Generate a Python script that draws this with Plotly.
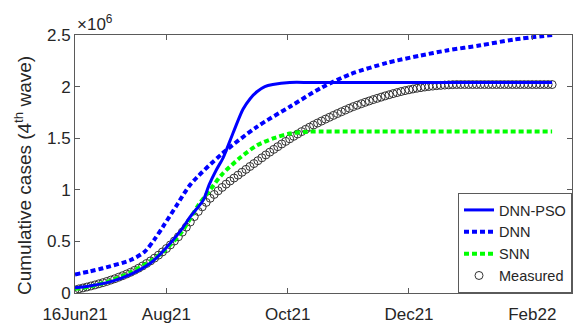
import pandas as pd
import plotly.graph_objects as go

START = "2021-06-16"

# Measured cumulative cases (millions), one value every 2 days from 16 Jun 2021
MEAS_STEP_DAYS = 2
MEASURED = [
    0.030, 0.040, 0.049, 0.058, 0.068, 0.078, 0.089, 0.100, 0.112, 0.125,
    0.138, 0.153, 0.168, 0.184, 0.201, 0.220, 0.240, 0.262, 0.286, 0.311,
    0.338, 0.367, 0.398, 0.431, 0.466, 0.504, 0.545, 0.590, 0.638, 0.688,
    0.740, 0.790, 0.835, 0.878, 0.918, 0.955, 0.990, 1.023, 1.055, 1.085,
    1.114, 1.142, 1.170, 1.198, 1.226, 1.254, 1.282, 1.310, 1.338, 1.365,
    1.392, 1.418, 1.444, 1.469, 1.494, 1.518, 1.541, 1.564, 1.586, 1.607,
    1.628, 1.647, 1.666, 1.685, 1.703, 1.721, 1.739, 1.756, 1.773, 1.790,
    1.806, 1.820, 1.834, 1.848, 1.861, 1.874, 1.886, 1.898, 1.910, 1.921,
    1.932, 1.942, 1.952, 1.961, 1.969, 1.977, 1.984, 1.990, 1.996, 2.001,
    2.005, 2.009, 2.012, 2.015, 2.017, 2.019, 2.020, 2.020, 2.020, 2.020,
    2.020, 2.020, 2.020, 2.020, 2.020, 2.020, 2.020, 2.020, 2.020, 2.020,
    2.020, 2.020, 2.020, 2.020, 2.020, 2.020, 2.020, 2.020, 2.020, 2.020,
    2.020,
]

# DNN-PSO (day offset, millions)
PSO_DAYS = [0, 8, 18, 28, 38, 45, 53, 58, 64.5, 67.5, 71, 74.5, 79.5, 84.5,
            88, 91.5, 95.5, 99.5, 108, 120, 240]
PSO_VALS = [0.05, 0.07, 0.11, 0.18, 0.29, 0.42, 0.60, 0.74, 0.90, 1.05, 1.19,
            1.31, 1.55, 1.78, 1.88, 1.95, 2.00, 2.02, 2.04, 2.04, 2.04]

# DNN
DNN_DAYS = [0, 7.5, 14, 28, 35, 40, 44.5, 51.5, 58, 74, 91.5, 108.5, 124,
            138.5, 157, 173.5, 187, 204, 220.5, 240]
DNN_VALS = [0.18, 0.21, 0.24, 0.32, 0.40, 0.52, 0.65, 0.86, 1.05, 1.35, 1.61,
            1.81, 1.99, 2.12, 2.23, 2.30, 2.35, 2.40, 2.455, 2.50]

# SNN
SNN_DAYS = [0, 8, 18, 28, 38, 45, 54, 62, 68, 74, 83, 91.5, 100, 108, 117,
            130, 240]
SNN_VALS = [0.04, 0.065, 0.12, 0.20, 0.31, 0.41, 0.60, 0.85, 1.0, 1.15, 1.31,
            1.43, 1.50, 1.545, 1.563, 1.565, 1.565]

TICK_DATES = ["2021-06-16", "2021-08-01", "2021-10-01", "2021-12-01", "2022-02-01"]
TICK_TEXT = ["16Jun21", "Aug21", "Oct21", "Dec21", "Feb22"]
Y_TICKS = [0, 0.5, 1, 1.5, 2, 2.5]
Y_TEXT = ["0", "0.5", "1", "1.5", "2", "2.5"]

t0 = pd.Timestamp(START)


def to_dates(days):
    return [t0 + pd.Timedelta(days=float(d)) for d in days]


meas_dates = [t0 + pd.Timedelta(days=MEAS_STEP_DAYS * i) for i in range(len(MEASURED))]

FONT = "Liberation Sans, Arial, sans-serif"
TXT = "#262626"
AX = "#5a5a5a"
PLOT_W = 574 - 75 - 2

fig = go.Figure()
fig.add_trace(go.Scatter(
    x=meas_dates, y=MEASURED, mode="markers", name="Measured", legendrank=4,
    marker=dict(symbol="circle-open", size=8, color="#333333", line=dict(width=1, color="#333333")),
))
fig.add_trace(go.Scatter(
    x=to_dates(SNN_DAYS), y=SNN_VALS, mode="lines", name="SNN", legendrank=3,
    line=dict(color="#00FF00", width=4, dash="5px,3px", shape="spline", smoothing=0.8),
))
fig.add_trace(go.Scatter(
    x=to_dates(DNN_DAYS), y=DNN_VALS, mode="lines", name="DNN", legendrank=2,
    line=dict(color="#0000FF", width=4, dash="5px,3px", shape="spline", smoothing=0.8),
))
fig.add_trace(go.Scatter(
    x=to_dates(PSO_DAYS), y=PSO_VALS, mode="lines", name="DNN-PSO", legendrank=1,
    line=dict(color="#0000FF", width=3, shape="spline", smoothing=0.8),
))

fig.update_layout(
    width=574, height=327,
    margin=dict(l=75, r=2, t=35, b=34, autoexpand=False),
    paper_bgcolor="white", plot_bgcolor="white",
    font=dict(family=FONT, size=16, color=TXT),
    showlegend=True,
    legend=dict(
        x=1, y=0, xanchor="right", yanchor="bottom",
        bgcolor="white", bordercolor=AX, borderwidth=1,
        font=dict(size=14.5, color=TXT), tracegroupgap=0,
    ),
    xaxis=dict(
        type="date", range=["2021-06-16", "2022-02-21"],
        tickvals=TICK_DATES, ticktext=TICK_TEXT,
        showgrid=False, zeroline=False, showline=True, linecolor=AX, linewidth=1,
        mirror="ticks", ticks="inside", ticklen=5, tickcolor=AX,
        tickfont=dict(size=17, color=TXT), automargin=False, ticklabelstandoff=6,
    ),
    yaxis=dict(
        range=[0, 2.5], tickvals=Y_TICKS, ticktext=Y_TEXT,
        showgrid=False, zeroline=False, showline=True, linecolor=AX, linewidth=1,
        mirror="ticks", ticks="inside", ticklen=5, tickcolor=AX,
        tickfont=dict(size=17, color=TXT), automargin=False,
    ),
    annotations=[
        dict(
            text="×10<sup>6</sup>", x=0, y=1, xref="paper", yref="paper",
            xanchor="left", yanchor="bottom", showarrow=False, yshift=-1,
            font=dict(size=17, color=TXT),
        ),
        dict(
            text="Cumulative cases (4<sup>th</sup> wave)", textangle=-90,
            x=(23 - 75) / PLOT_W, y=0.5, xref="paper", yref="paper",
            xanchor="center", yanchor="middle", showarrow=False, yshift=-12,
            font=dict(size=19, color=TXT),
        ),
    ],
)

fig.write_html("out.html", config={"displayModeBar": False},
               post_script="document.body.style.margin='0';")
